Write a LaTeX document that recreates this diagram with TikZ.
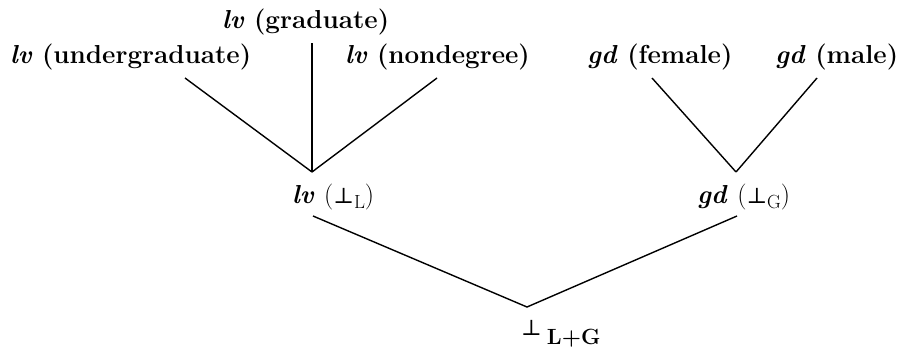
\documentclass[tikz,border=0pt]{standalone}
\usepackage{fontspec}
\newfontfamily\perpfont{DejaVu Serif}
\begin{document}
\begin{tikzpicture}[x=1pt,y=-1pt,
  lbl/.style={inner sep=0pt, anchor=base west, font=\fontsize{26}{30}\selectfont\bfseries},
  conn/.style={line width=1.4pt}]
\newcommand{\botsym}{{\perpfont\mdseries\fontsize{22}{24}\selectfont ⊥}}
\newcommand{\subtxt}[1]{\raisebox{-5pt}{\fontsize{19}{20}\selectfont\mdseries #1}}
\useasboundingbox (0,0) rectangle (901,348);
% labels
\node[lbl] (grad) at (222,28) {\textit{lv} (graduate)};
\node[lbl] (ug) at (10,63) {\textit{lv} (undergraduate)};
\node[lbl] (nd) at (345,63) {\textit{lv} (nondegree)};
\node[lbl] (fem) at (587,63) {\textit{gd} (female)};
\node[lbl] (mal) at (775,63) {\textit{gd} (male)};
\node[lbl] (lvL) at (292,203) {\textit{lv} {\mdseries(}\botsym\subtxt{L}{\mdseries)}};
\node[lbl] (gdG) at (697,203) {\textit{gd} {\mdseries(}\botsym\subtxt{G}{\mdseries)}};
\node[lbl] (bot) at (521,335) {\botsym\hspace{5pt}\raisebox{-9pt}{\fontsize{22}{24}\selectfont\bfseries L+G}};
% connector end points
\coordinate (ugE) at (185,78);
\coordinate (gradE) at (312,43);
\coordinate (ndE) at (437,78);
\coordinate (lvTop) at (312,172);
\coordinate (femE) at (652,78);
\coordinate (malE) at (817,78);
\coordinate (gdTop) at (736,172);
\coordinate (lvBot) at (313,216);
\coordinate (gdBot) at (737,216);
\coordinate (botTop) at (527,307);
% connectors
\draw[conn] (ugE) -- (lvTop);
\draw[conn] (gradE) -- (lvTop);
\draw[conn] (ndE) -- (lvTop);
\draw[conn] (femE) -- (gdTop);
\draw[conn] (malE) -- (gdTop);
\draw[conn] (lvBot) -- (botTop) -- (gdBot);
\end{tikzpicture}
\end{document}
